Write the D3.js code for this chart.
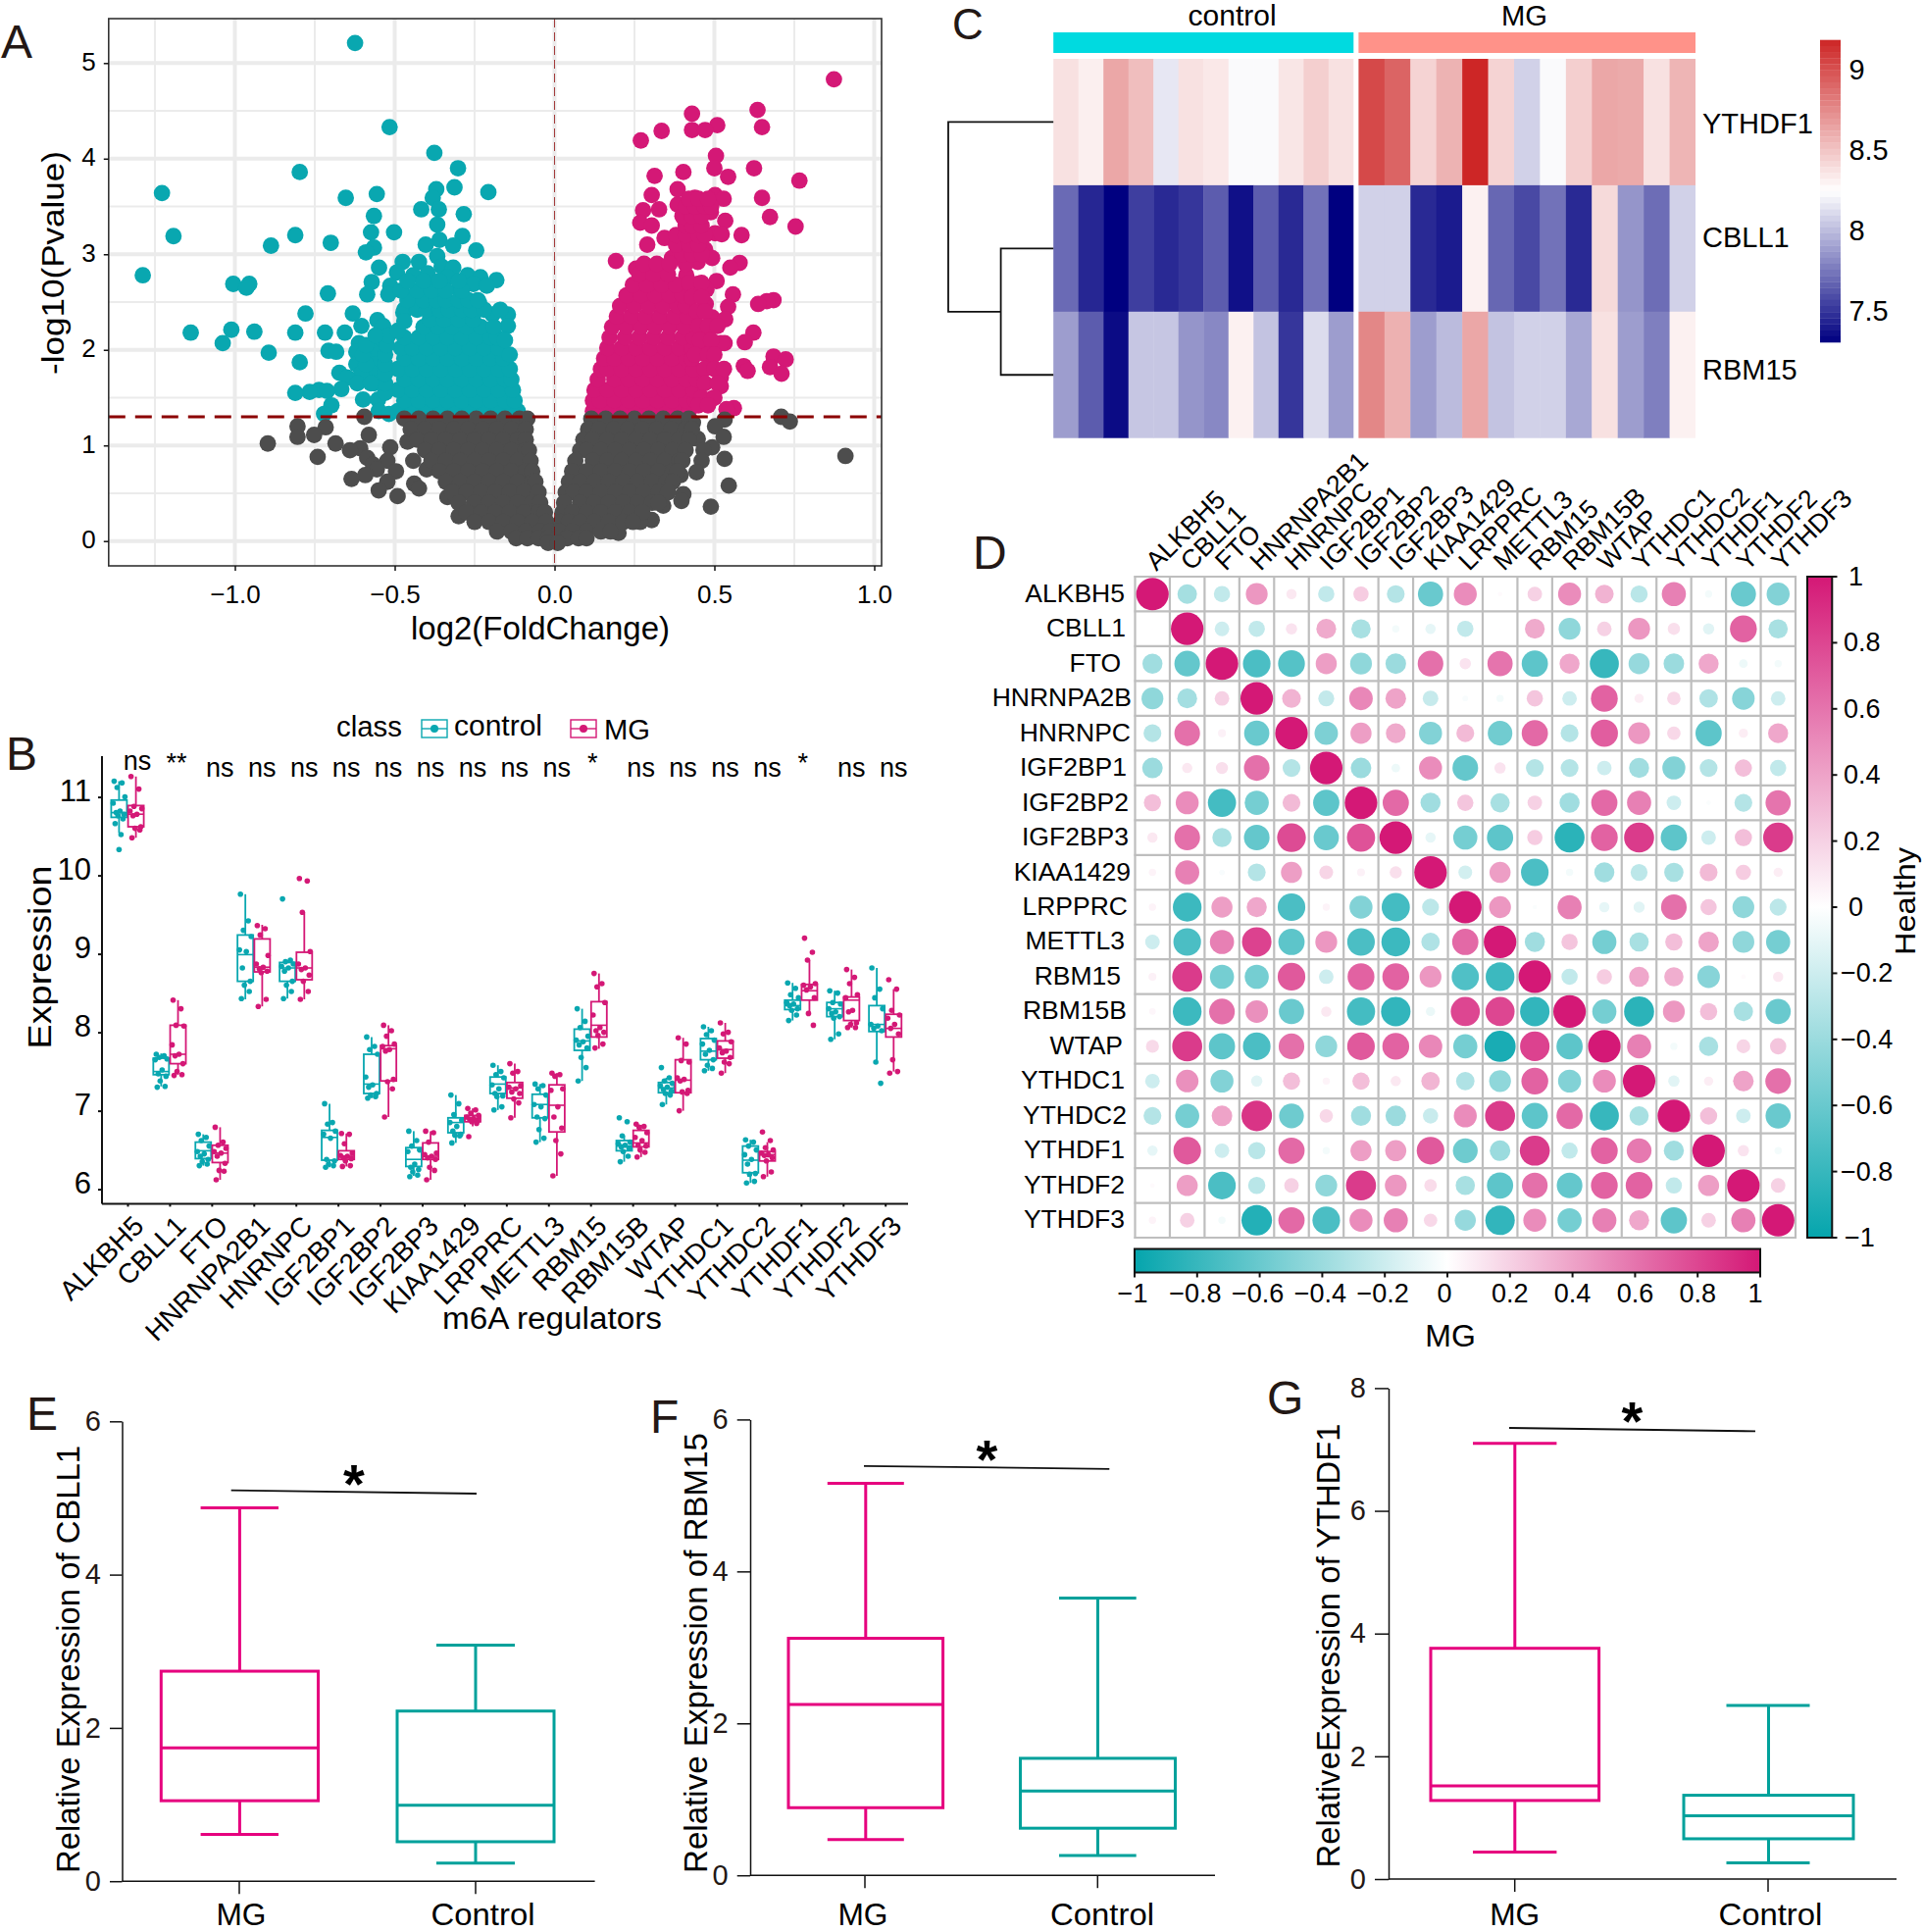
<!DOCTYPE html>
<html><head><meta charset="utf-8">
<script src="https://cdn.jsdelivr.net/npm/d3@7"></script>
<style>html,body{margin:0;padding:0;background:#fff}svg{display:block}text{font-family:"Liberation Sans",Arial,sans-serif}</style>
</head><body><svg id="fig" width="1961" height="1970"></svg>
<script>
// ---------- Panel A data: rows of [pvalue level, [log2FC...]] ----------
const volcanoTeal = [[5.21,[-.624]],[4.33,[-.516]],[4.06,[-.376]],[3.90,[-.302]],[3.86,[-.797]],[3.70,[-.313]],[3.68,[-.37]],[3.65,[-.207]],[3.64,[-1.228]],[3.63,[-.556]],[3.59,[-.653,-.381]],[3.47,[-.417,-.362]],[3.42,[-.284]],[3.40,[-.565]],[3.31,[-.367]],[3.23,[-.574,-.502]],[3.20,[-.811]],[3.19,[-1.192,-.288]],[3.15,[-.36]],[3.12,[-.70]],[3.10,[-.403]],[3.09,[-.887,-.317]],[3.07,[-.565]],[3.04,[-.245]],[3.02,[-.59]],[2.98,[-.367]],[2.92,[-.424,-.475]],[2.87,[-.353]],[2.86,[-.549,-.317]],[2.81,[-.493]],[2.80,[-.397]],[2.78,[-1.288,-.272,-.442]],[2.76,[-.232,-.335]],[2.73,[-.182]],[2.71,[-.572]],[2.69,[-1.005,-.955,-.254]],[2.67,[-.212,-.514,-.406]],[2.65,[-.964]],[2.63,[-.299]],[2.59,[-.709]],[2.58,[-.586,-.52,-.388]],[2.56,[-.442]],[2.49,[-.236,-.40]],[2.47,[-.353,-.31]],[2.38,[-.779,-.631]],[2.39,[-.473]],[2.37,[-.194,-.146]],[2.31,[-.554]],[2.25,[-.536,-.604,-.146]],[2.21,[-1.011]],[2.19,[-.939]],[2.18,[-1.138,-.811,-.718,-.656]],[2.07,[-1.038,-.612,-.566]],[1.99,[-.707]],[1.98,[-.683,-.62,-.57]],[1.97,[-.894]],[1.87,[-.797]],[1.85,[-.62,-.565]],[1.76,[-.673]],[1.75,[-.565,-.605]],[1.71,[-.649]],[1.65,[-.617,-.565]],[1.59,[-.667]],[1.58,[-.737]],[1.57,[-.712]],[1.56,[-.766]],[1.55,[-.811]],[1.48,[-.599,-.552]],[1.42,[-.698]],[1.36,[-.55]],[1.33,[-.721,-.518]],
[1.36,[-.49,-.445,-.40,-.355,-.31,-.265,-.22,-.175,-.13,-.115]],[1.47,[-.47,-.425,-.38,-.335,-.29,-.245,-.20,-.155,-.125]],[1.58,[-.49,-.445,-.40,-.355,-.31,-.265,-.22,-.175,-.13]],[1.69,[-.47,-.425,-.38,-.335,-.29,-.245,-.20,-.155,-.135]],[1.80,[-.49,-.445,-.40,-.355,-.31,-.265,-.22,-.175,-.14]],[1.91,[-.47,-.425,-.38,-.335,-.29,-.245,-.20,-.16]],[2.02,[-.48,-.445,-.40,-.355,-.31,-.265,-.22,-.175]],[2.13,[-.47,-.425,-.38,-.335,-.29,-.245,-.20,-.18]],[2.24,[-.41,-.365,-.32,-.275,-.23,-.19]],[2.32,[-.39,-.345,-.30,-.255]],
[2.42,[-.47,-.43,-.40,-.36,-.33,-.29,-.26,-.22,-.17]],[2.52,[-.46,-.41,-.37,-.34,-.30,-.27,-.24]],[2.62,[-.48,-.43,-.385,-.34,-.29]],[2.72,[-.46,-.41,-.36,-.30]],
[1.55,[-.53]],[1.65,[-.53,-.575]],[1.75,[-.53]],[1.85,[-.53,-.59]],[1.95,[-.53,-.60,-.14]],[2.05,[-.525,-.59]],[2.15,[-.52,-.56]],[2.10,[-.155]],[2.20,[-.49]],[2.30,[-.47]]];
const volcanoPink = [[4.83,[.874]],[4.51,[.635]],[4.47,[.43]],[4.35,[.509]],[4.33,[.649]],[4.30,[.43,.471]],[4.29,[.335]],[4.19,[.27]],[4.03,[.505]],[3.90,[.5,.624]],[3.86,[.403]],[3.82,[.313]],[3.81,[.543]],[3.77,[.766]],[3.68,[.385]],[3.62,[.304,.502]],[3.59,[.649,.439]],[3.58,[.529]],[3.56,[.471]],[3.52,[.385]],[3.47,[.327,.448]],[3.46,[.277]],[3.44,[.489]],[3.39,[.674,.403]],[3.35,[.534]],[3.34,[.448]],[3.33,[.268]],[3.30,[.304]],[3.29,[.754]],[3.23,[.43]],[3.22,[.502]],[3.21,[.523]],[3.20,[.585]],[3.17,[.344]],[3.16,[.403]],[3.12,[.448]],[3.10,[.29]],[3.05,[.403,.471]],[2.96,[.493,.367]],[2.93,[.192]],[2.92,[.448]],[2.91,[.579]],[2.87,[.317]],[2.86,[.55]],[2.85,[.255]],[2.78,[.412]],[2.72,[.507]],[2.69,[.448]],[2.63,[.475]],[2.58,[.558]],[2.52,[.685]],[2.51,[.664]],[2.48,[.637,.473]],[2.45,[.543]],[2.37,[.439]],[2.34,[.493]],[2.32,[.534]],[2.18,[.622,.46]],[2.11,[.475]],[2.08,[.595]],[2.07,[.532,.52]],[1.96,[.466]],[1.93,[.685]],[1.90,[.723]],[1.83,[.592]],[1.82,[.674,.493]],[1.78,[.604]],[1.75,[.71]],[1.71,[.52]],[1.62,[.52]],[1.49,[.493]],[1.39,[.561]],[1.38,[.538]],
[1.36,[.12,.165,.21,.255,.30,.345,.39,.42]],[1.47,[.12,.142,.187,.232,.277,.322,.367,.412,.44]],[1.58,[.125,.165,.21,.255,.30,.345,.39,.435]],[1.69,[.135,.187,.232,.277,.322,.367,.412,.445]],[1.80,[.145,.165,.21,.255,.30,.345,.39,.435]],[1.91,[.155,.187,.232,.277,.322,.367,.412,.43]],[2.02,[.165,.21,.255,.30,.345,.39,.43]],[2.13,[.172,.22,.265,.31,.355,.40,.435]],[2.24,[.18,.225,.27,.315,.36,.405]],[2.35,[.195,.24,.285,.33,.375,.415]],[2.46,[.205,.25,.295,.34,.385,.41]],[2.57,[.225,.27,.315,.36,.40]],[2.68,[.245,.29,.335,.38]],[2.79,[.265,.31,.355]],
[2.90,[.28,.32,.36,.41]],[3.0,[.40,.43,.46]],[3.1,[.38,.42,.45]],[3.2,[.38,.41,.45,.47]],[3.3,[.41,.43,.46]],[3.4,[.40,.43,.46]],[3.5,[.41,.44,.47,.49]],[3.58,[.42,.45,.48]],[2.7,[.42,.46]],[2.55,[.43,.46]],[2.4,[.445,.47]],[2.25,[.45,.48,.51]],[2.1,[.455,.49]],[1.95,[.44,.48,.50]],[1.8,[.47,.50,.53]],[1.65,[.47,.51]],[1.5,[.46,.50]],[1.42,[.45,.48]]];
const volcanoGray = [[1.30,[-.595,.709]],[1.27,[.532]],[1.25,[.736]],[1.24,[.433]],[1.20,[-.804,.502]],[1.19,[-.716]],[1.11,[-.752,-.581]],[1.09,[-.804,.529]],[1.07,[.448,-.40]],[1.04,[-.46]],[1.02,[-.897,-.685]],[.98,[-.514,.493]],[.97,[-.608]],[.95,[-.64,.466]],[.89,[.91]],[.88,[-.741]],[.87,[-.586]],[.86,[.532]],[.84,[-.523,-.442,.46]],[.80,[-.568]],[.75,[-.556,-.40]],[.73,[-.496,.358]],[.72,[.444]],[.69,[-.592,.394]],[.65,[-.635]],[.62,[-.523]],[.60,[-.439]],[.58,[.545]],[.55,[-.424]],[.53,[-.55]],[.49,[.403]],[.47,[-.491]],[.46,[-.335]],[.42,[.397]],[.37,[.34]],[.36,[.489]],[.26,[-.30]],[.22,[.304]],[.20,[.268]],[.085,[.20]],
[1.28,[-.47,-.425,-.38,-.335,-.29,-.245,-.20,-.155,-.11,-.085,.115,.16,.205,.25,.295,.34,.385,.42]],
[1.17,[-.45,-.405,-.36,-.315,-.27,-.225,-.18,-.135,-.09,.105,.14,.185,.23,.275,.32,.365,.41,.43]],
[1.06,[-.43,-.385,-.34,-.295,-.25,-.205,-.16,-.115,-.09,.09,.12,.165,.21,.255,.30,.345,.39,.42]],
[.95,[-.405,-.36,-.315,-.27,-.225,-.18,-.135,-.09,-.08,.08,.10,.145,.19,.235,.28,.325,.37,.41]],
[.84,[-.385,-.34,-.295,-.25,-.205,-.16,-.115,-.075,.065,.12,.165,.21,.255,.30,.345,.39,.40]],
[.73,[-.36,-.315,-.27,-.225,-.18,-.135,-.09,-.07,.055,.10,.145,.19,.235,.28,.325,.37,.385]],
[.62,[-.34,-.295,-.25,-.205,-.16,-.115,-.07,-.06,.045,.08,.125,.17,.215,.26,.305,.35,.37]],
[.51,[-.32,-.275,-.23,-.185,-.14,-.095,-.05,.035,.06,.10,.145,.19,.235,.28,.325,.355]],
[.40,[-.30,-.25,-.205,-.16,-.115,-.07,-.045,.03,.08,.125,.17,.215,.26,.305,.325]],
[.30,[-.275,-.23,-.185,-.14,-.095,-.05,-.03,.025,.055,.10,.145,.19,.235,.275]],
[.20,[-.25,-.205,-.16,-.115,-.07,-.025,.02,.045,.08,.125,.17,.215,.245]],
[.10,[-.18,-.135,-.09,-.045,-.015,.015,.055,.10,.145,.175]],
[.03,[-.12,-.085,-.05,-.02,.01,.04,.075,.10]],[-.02,[-.02,.01]]];
const volcanoXTicks = [-1,-.5,0,.5,1];
const volcanoXMinor = [-1.25,-.75,-.25,.25,.75];
const volcanoYTicks = [0,1,2,3,4,5];
const volcanoYMinor = [.5,1.5,2.5,3.5,4.5];

// ---------- Panel B data ----------
const regulators = ["ALKBH5","CBLL1","FTO","HNRNPA2B1","HNRNPC","IGF2BP1","IGF2BP2","IGF2BP3","KIAA1429","LRPPRC","METTL3","RBM15","RBM15B","WTAP","YTHDC1","YTHDC2","YTHDF1","YTHDF2","YTHDF3"];
const significance = ["ns","**","ns","ns","ns","ns","ns","ns","ns","ns","ns","*","ns","ns","ns","ns","*","ns","ns"];
// each: low whisker, q1, median, q3, high whisker
const boxControl = [[10.54,10.74,10.8,10.96,11.2],[7.31,7.46,7.5,7.67,7.73],[6.3,6.39,6.49,6.6,6.7],[8.42,8.65,8.99,9.24,9.76],[8.43,8.65,8.82,8.89,8.92],[6.28,6.37,6.66,6.75,7.09],[7.16,7.22,7.34,7.72,7.94],[6.17,6.29,6.38,6.53,6.74],[6.59,6.72,6.85,6.91,7.2],[7.01,7.22,7.34,7.43,7.58],[6.6,6.91,7.08,7.21,7.34],[7.38,7.77,7.89,8.04,8.3],[6.35,6.49,6.55,6.62,6.68],[7.08,7.23,7.29,7.36,7.42],[7.51,7.65,7.76,7.92,8.07],[6.08,6.21,6.37,6.55,6.63],[8.15,8.29,8.34,8.41,8.63],[7.91,8.2,8.3,8.38,8.53],[7.62,8.01,8.1,8.34,8.82]];
const boxMG = [[10.48,10.62,10.78,10.89,11.26],[7.46,7.6,7.72,8.09,8.41],[6.12,6.34,6.46,6.56,6.79],[8.33,8.77,8.83,9.19,9.37],[8.42,8.67,8.82,9.02,9.53],[6.29,6.38,6.42,6.49,6.71],[6.92,7.38,7.79,7.83,8.09],[6.12,6.38,6.42,6.59,6.74],[6.8,6.86,6.9,6.94,7.03],[6.91,7.16,7.29,7.36,7.6],[6.17,6.73,7.07,7.33,7.48],[7.79,7.94,8.09,8.39,8.75],[6.41,6.54,6.59,6.75,6.82],[7.0,7.23,7.39,7.65,7.93],[7.48,7.67,7.78,7.89,8.12],[6.16,6.36,6.44,6.48,6.6],[8.24,8.41,8.53,8.61,8.92],[8.06,8.15,8.41,8.45,8.8],[7.5,7.94,8.05,8.23,8.55]];
const dotsControl = [[11.2,11.18,11.12,11.0,10.92,10.82,10.8,10.78,10.76,10.72,10.66,10.52,10.33],[7.72,7.7,7.68,7.66,7.65,7.52,7.47,7.44,7.38,7.31,7.3],[6.7,6.66,6.62,6.55,6.48,6.45,6.42,6.38,6.35,6.32,6.3],[9.76,9.42,9.3,9.22,9.05,9.03,8.82,8.65,8.6,8.52,8.43],[9.7,8.92,8.9,8.87,8.84,8.82,8.78,8.65,8.6,8.52,8.43],[7.09,6.85,6.83,6.74,6.7,6.65,6.38,6.36,6.32,6.3,6.28],[7.94,7.82,7.78,7.72,7.43,7.33,7.3,7.22,7.2,7.18,7.16],[6.74,6.62,6.55,6.5,6.48,6.32,6.28,6.25,6.22,6.18,6.16],[7.2,7.09,6.95,6.88,6.85,6.8,6.74,6.7,6.69,6.68,6.59],[7.58,7.5,7.46,7.42,7.33,7.28,7.22,7.19,7.18,7.05,7.01],[7.34,7.32,7.28,7.2,7.08,7.05,6.92,6.9,6.76,6.65,6.6],[8.3,8.14,8.06,7.95,7.9,7.88,7.84,7.8,7.68,7.55,7.38],[6.91,6.86,6.68,6.6,6.58,6.56,6.54,6.52,6.48,6.42,6.35],[7.55,7.42,7.38,7.35,7.32,7.3,7.27,7.25,7.22,7.2,7.08],[8.07,8.02,7.97,7.9,7.85,7.77,7.72,7.65,7.58,7.54,7.51],[6.63,6.6,6.55,6.5,6.44,6.38,6.32,6.2,6.19,6.1,6.08],[8.63,8.56,8.48,8.44,8.38,8.36,8.34,8.3,8.28,8.22,8.15],[8.53,8.5,8.38,8.36,8.3,8.26,8.24,8.2,8.18,7.98,7.91],[8.82,8.55,8.44,8.3,8.1,8.08,8.05,8.02,7.62,7.35]];
const dotsMG = [[11.26,11.1,10.88,10.85,10.82,10.78,10.76,10.62,10.6,10.58,10.48],[8.41,8.3,8.09,8.08,7.84,7.72,7.7,7.6,7.5,7.46,7.45],[6.79,6.6,6.56,6.52,6.48,6.46,6.42,6.33,6.24,6.23,6.12],[9.36,9.32,9.24,8.98,8.87,8.83,8.81,8.78,8.76,8.42,8.33],[9.96,9.93,9.53,9.03,8.87,8.82,8.8,8.73,8.65,8.52,8.42],[6.71,6.7,6.58,6.46,6.43,6.42,6.4,6.39,6.36,6.3,6.29],[8.09,8.02,7.95,7.85,7.82,7.78,7.76,7.4,7.37,7.28,6.92],[6.74,6.72,6.6,6.46,6.44,6.42,6.4,6.38,6.28,6.24,6.12],[7.03,7.01,6.97,6.94,6.92,6.9,6.89,6.87,6.86,6.84,6.67],[7.6,7.5,7.48,7.32,7.3,7.28,7.24,7.22,7.15,7.1,6.91],[7.48,7.46,7.44,7.28,7.26,7.05,6.92,6.78,6.62,6.45,6.17],[8.75,8.62,8.58,8.38,8.22,8.06,8.02,8.0,7.96,7.85,7.8],[6.83,6.8,6.79,6.72,6.66,6.62,6.56,6.55,6.5,6.47,6.41],[7.93,7.85,7.64,7.62,7.42,7.4,7.38,7.26,7.24,7.22,7.0],[8.12,8.0,7.98,7.88,7.8,7.76,7.74,7.68,7.62,7.6,7.48],[6.73,6.62,6.53,6.5,6.46,6.44,6.43,6.4,6.36,6.22,6.16],[9.2,9.02,8.92,8.62,8.6,8.58,8.54,8.44,8.24,8.09],[8.8,8.7,8.62,8.48,8.44,8.28,8.26,8.12,8.1,8.06,8.06],[8.67,8.55,8.28,8.22,8.18,8.1,8.05,7.98,7.65,7.5,7.48]];
const dotJitter = [-5,3,-2,6,-6,1,-3,5,-1,4,-4,2,0];
const exprTicks = [6,7,8,9,10,11];

// ---------- Panel C data ----------
const heatGenes = ["YTHDF1","CBLL1","RBM15"];
const heatControl = [[8.37,8.31,8.62,8.52,8.15,8.37,8.34,8.22,8.22,8.35,8.45,8.37],[7.69,7.44,7.3,7.53,7.45,7.5,7.64,7.36,7.64,7.45,7.72,7.3],[7.88,7.64,7.34,8.03,8.03,7.85,7.8,8.3,8.02,7.5,8.11,7.88]];
const heatMG = [[9.03,8.91,8.43,8.57,9.18,8.43,8.07,8.22,8.45,8.62,8.61,8.37,8.56],[8.07,8.07,7.45,7.4,8.3,7.68,7.57,7.72,7.45,8.4,7.85,7.7,8.07],[8.76,8.58,7.88,7.99,8.62,8.02,8.07,8.07,7.92,8.37,7.88,7.77,8.3]];
const heatTicks = [7.5,8,8.5,9];

// ---------- Panel D data: upper triangle MG, lower triangle Healthy ----------
const corrGenes = ["ALKBH5","CBLL1","FTO","HNRNPA2B","HNRNPC","IGF2BP1","IGF2BP2","IGF2BP3","KIAA1429","LRPPRC","METTL3","RBM15","RBM15B","WTAP","YTHDC1","YTHDC2","YTHDF1","YTHDF2","YTHDF3"];
const corrColGenes = ["ALKBH5","CBLL1","FTO","HNRNPA2B1","HNRNPC","IGF2BP1","IGF2BP2","IGF2BP3","KIAA1429","LRPPRC","METTL3","RBM15","RBM15B","WTAP","YTHDC1","YTHDC2","YTHDF1","YTHDF2","YTHDF3"];
const corrMatrix = [
[1,-.36,-.25,.45,.1,-.25,.22,-.3,-.6,.5,.02,.2,.5,.33,-.28,.55,-.05,-.6,-.5],
[.003,1,-.2,-.25,.12,.37,-.35,-.05,-.1,-.25,.003,.37,-.45,.2,.45,.14,-.12,.68,-.35],
[-.38,-.62,1,-.72,-.68,.42,-.45,-.4,.62,.12,.6,-.65,.38,-.8,-.42,-.4,.38,-.07,-.05],
[-.45,-.37,.2,1,.33,-.24,.52,.4,-.23,-.03,-.05,.25,-.2,.68,.08,.17,-.32,-.48,-.2],
[-.3,.62,.06,-.6,1,-.52,.42,.37,-.5,.3,-.57,.65,-.3,.7,.45,.17,-.65,.08,.38],
[-.4,.1,.14,.62,-.3,1,-.4,-.07,.5,-.62,.12,-.3,-.3,-.2,-.38,-.5,-.3,.28,-.25],
[.28,.5,-.75,-.55,.3,-.65,1,.65,-.38,.25,-.35,.2,-.38,.65,.55,-.2,-.02,-.3,.6],
[.1,.62,-.35,-.62,.78,-.6,.75,1,-.1,-.55,-.65,.22,-.85,.68,.85,-.65,-.2,.28,.85],
[.05,.55,-.03,-.3,.42,.18,.06,.14,1,-.18,.42,-.72,-.05,-.38,-.27,-.35,.3,.22,.08],
[.05,-.78,.42,.38,-.72,.05,-.5,-.75,-.27,1,.45,-.02,.55,-.1,-.12,.62,.25,-.45,-.27],
[-.2,-.72,.55,.82,-.65,.45,-.72,-.78,-.32,.65,1,-.38,.25,-.55,-.35,.28,.4,-.45,-.55],
[.06,.85,-.55,-.55,.72,-.2,.68,.68,.45,-.7,-.78,1,-.25,.22,.38,.35,-.48,.02,.1],
[.04,-.78,.62,.48,-.6,.1,-.75,-.82,-.08,.8,.8,-.82,1,-.55,-.85,.45,.28,-.35,-.6],
[.16,.85,-.65,-.72,.62,-.45,.72,.68,.52,-.55,-.92,.82,-.65,1,.55,-.05,-.35,.18,.25],
[-.2,.48,-.5,-.12,.28,.05,.28,.1,.32,-.32,-.45,.68,-.5,.5,1,-.12,.08,.4,.62],
[-.3,-.55,.4,.88,-.58,.17,-.38,-.4,-.22,.5,.85,-.65,.65,-.8,-.35,1,.28,-.2,-.6],
[-.1,.72,-.2,-.28,.65,-.05,.42,.42,.72,-.58,-.4,.85,-.25,.68,.58,-.38,1,.12,-.05],
[.02,.42,-.72,-.28,.2,-.45,.85,.45,.15,-.35,-.65,.62,-.62,.68,.68,-.25,.42,1,.2],
[.05,.2,-.05,-.88,.65,-.72,.5,.55,.17,-.42,-.82,.5,-.55,.55,.38,-.65,.2,.55,1]];
const corrRowRight = [1147,1148,1143,1154,1153,1149,1151,1151,1153,1150,1147,1143,1149,1145,1147,1149,1147,1147,1147];
const corrLegendTicks = [-1,-.8,-.6,-.4,-.2,0,.2,.4,.6,.8,1];

// ---------- Panels E, F, G data: low whisker, q1, median, q3, high whisker ----------
const cbll1MG = [.61,1.05,1.74,2.74,4.87], cbll1Control = [.236,.515,.99,2.22,3.08];
const rbm15MG = [.47,.89,2.25,3.12,5.16], rbm15Control = [.26,.62,1.11,1.54,3.65];
const ythdf1MG = [.44,1.28,1.52,3.76,7.1], ythdf1Control = [.265,.656,1.03,1.365,2.83];

// ---------- helpers ----------
const PINK="#D41876", TEAL="#09A7B0", GRAY="#4D4D4D";
const svg=d3.select("#fig");
svg.append("rect").attr("width",1961).attr("height",1970).attr("fill","#fff");
function T(g,x,y,s,o={}){
  const t=g.append("text").attr("transform",`translate(${x},${y})`+(o.rot?` rotate(${o.rot})`:""))
    .attr("font-size",o.size||26).attr("text-anchor",o.anchor||"start").attr("fill",o.fill||"#000").text(s);
  if(o.weight)t.attr("font-weight",o.weight);
  if(o.len)t.attr("textLength",o.len).attr("lengthAdjust","spacingAndGlyphs");
  return t;
}
function styleAxis(a,size,fill,sw){
  a.selectAll("text").attr("font-size",size).attr("fill",fill||"#000").attr("font-family",'"Liberation Sans"');
  a.selectAll("line,path").attr("stroke","#111").attr("stroke-width",sw||1.5);
}
function rowsToPoints(rows){return rows.flatMap(r=>r[1].map(x=>({x,y:r[0]})));}

// Panel letters
[["A",1,59,48],["B",6,785,48],["C",971,40,44],["D",992,580,48],["E",27,1458,48],["F",663,1461,48],["G",1292,1442,48]]
  .forEach(d=>T(svg,d[1],d[2],d[0],{size:d[3],fill:"#231815"}));

// ---------- Panel A ----------
(function(){
  const L=110.8,R=899,Top=19,Bot=577;
  const x=d3.scaleLinear().domain([-1,1]).range([239.5,891.5]);
  const y=d3.scaleLinear().domain([0,5]).range([551.7,64.3]);
  const g=svg.append("g");
  g.append("rect").attr("x",L).attr("y",Top).attr("width",R-L).attr("height",Bot-Top).attr("fill","#fff");
  volcanoXMinor.forEach(v=>g.append("line").attr("x1",x(v)).attr("x2",x(v)).attr("y1",Top).attr("y2",Bot).attr("stroke","#EBEBEB").attr("stroke-width",2));
  volcanoYMinor.forEach(v=>g.append("line").attr("y1",y(v)).attr("y2",y(v)).attr("x1",L).attr("x2",R).attr("stroke","#EBEBEB").attr("stroke-width",2));
  volcanoXTicks.forEach(v=>g.append("line").attr("x1",x(v)).attr("x2",x(v)).attr("y1",Top).attr("y2",Bot).attr("stroke","#EBEBEB").attr("stroke-width",4));
  volcanoYTicks.forEach(v=>g.append("line").attr("y1",y(v)).attr("y2",y(v)).attr("x1",L).attr("x2",R).attr("stroke","#EBEBEB").attr("stroke-width",4));
  const dot=(rows,c)=>g.append("g").attr("fill",c).selectAll("circle").data(rowsToPoints(rows)).join("circle")
     .attr("cx",d=>x(d.x)).attr("cy",d=>y(d.y)).attr("r",8.4);
  dot(volcanoTeal,TEAL);dot(volcanoPink,PINK);dot(volcanoGray,GRAY);
  g.append("line").attr("x1",L).attr("x2",R).attr("y1",y(1.3)).attr("y2",y(1.3)).attr("stroke","#8B0000").attr("stroke-width",3.2).attr("stroke-dasharray","17,10");
  g.append("line").attr("x1",x(0)).attr("x2",x(0)).attr("y1",Top).attr("y2",Bot).attr("stroke","#8B0000").attr("stroke-opacity",.75).attr("stroke-width",1).attr("stroke-dasharray","9,5");
  g.append("rect").attr("x",L).attr("y",Top).attr("width",R-L).attr("height",Bot-Top).attr("fill","none").attr("stroke","#333").attr("stroke-width",1.6);
  const ax=g.append("g").attr("transform",`translate(0,${Bot})`).call(d3.axisBottom(x).tickValues(volcanoXTicks).tickFormat(d3.format(".1f")).tickSize(5).tickPadding(15).tickSizeOuter(0));
  styleAxis(ax,26);ax.select(".domain").remove();
  const ay=g.append("g").attr("transform",`translate(${L},0)`).call(d3.axisLeft(y).tickValues(volcanoYTicks).tickFormat(d3.format("d")).tickSize(5).tickPadding(8).tickSizeOuter(0));
  styleAxis(ay,26);ay.select(".domain").remove();
  ay.selectAll("text").attr("dy","0.27em");
  T(g,551,652,"log2(FoldChange)",{size:33,anchor:"middle",len:264});
  T(g,65,268,"-log10(Pvalue)",{size:32,anchor:"middle",rot:-90,len:228});
})();

// ---------- Panel B ----------
(function(){
  const g=svg.append("g");
  const x=d3.scalePoint().domain(regulators).range([130,902.7]);
  const y=d3.scaleLinear().domain([6,11]).range([1212.6,812.6]);
  const base=1227.4, off=8.6, bw=16;
  [[boxControl,dotsControl,TEAL,-off],[boxMG,dotsMG,PINK,off]].forEach(([bx,ds,c,o])=>{
    regulators.forEach((r,i)=>{
      const cx=x(r)+o,b=bx[i];
      g.append("line").attr("x1",cx).attr("x2",cx).attr("y1",y(b[0])).attr("y2",y(b[4])).attr("stroke",c).attr("stroke-width",1.8);
      g.append("rect").attr("x",cx-bw/2).attr("width",bw).attr("y",y(b[3])).attr("height",y(b[1])-y(b[3])).attr("fill","#fff").attr("stroke",c).attr("stroke-width",1.8);
      g.append("line").attr("x1",cx-bw/2).attr("x2",cx+bw/2).attr("y1",y(b[2])).attr("y2",y(b[2])).attr("stroke",c).attr("stroke-width",1.6);
      g.append("g").selectAll("circle").data(ds[i]).join("circle").attr("cx",(d,j)=>cx+dotJitter[j%dotJitter.length]).attr("cy",d=>y(d)).attr("r",2.8).attr("fill",c);
    });
  });
  const ay=g.append("g").attr("transform","translate(104,0)").call(d3.axisLeft(y).tickValues(exprTicks).tickFormat(d3.format("d")).tickSize(4).tickPadding(7).tickSizeOuter(0));
  styleAxis(ay,31,"#000",2);
  ay.selectAll("text").attr("dy","0.12em");
  ay.select(".domain").attr("d",`M0,771V${base}`);
  const ax=g.append("g").attr("transform",`translate(0,${base})`).call(d3.axisBottom(x).tickSize(3).tickSizeOuter(0).tickFormat(""));
  styleAxis(ax,26,"#000",2);
  ax.select(".domain").attr("d","M104,0H926");
  regulators.forEach(r=>T(g,x(r)+4,base+10,r,{size:28,anchor:"end",rot:-45}).attr("dy","0.72em"));
  T(g,52,976,"Expression",{size:34,anchor:"middle",rot:-90,len:187});
  T(g,563,1355,"m6A regulators",{size:31,anchor:"middle",len:224});
  significance.forEach((s,i)=>{
    const dx=s==="ns"?(i===0?10:8.5):s==="**"?7:2;
    T(g,x(regulators[i])+dx,s==="ns"?(i===0?785:791.5):787,s,{size:27,anchor:"middle"});
  });
  // legend
  T(g,343,751,"class",{size:29,len:67});
  [[430,TEAL,"control",463,750,90],[582,PINK,"MG",616,754,47]].forEach(([kx,c,lab,tx,ty,len])=>{
    g.append("rect").attr("x",kx).attr("y",734).attr("width",26).attr("height",18).attr("fill","#fff").attr("stroke",c).attr("stroke-width",1.4);
    g.append("line").attr("x1",kx).attr("x2",kx+26).attr("y1",743).attr("y2",743).attr("stroke",c).attr("stroke-width",1.4);
    g.append("circle").attr("cx",kx+13).attr("cy",743).attr("r",4).attr("fill",c);
    T(g,tx,ty,lab,{size:29,len});
  });
})();

// ---------- Panel C ----------
(function(){
  const g=svg.append("g");
  const col=d3.scaleLinear().domain([7.3,8.24,9.18]).range(["#000080","#FFFFFF","#CD2626"]);
  const rows=d3.scaleBand().domain(heatGenes).range([60,446.7]);
  const xc=d3.scaleBand().domain(d3.range(12)).range([1074.2,1380.3]);
  const xm=d3.scaleBand().domain(d3.range(13)).range([1385.4,1729]);
  [[heatControl,xc],[heatMG,xm]].forEach(([m,xs])=>m.forEach((r,i)=>r.forEach((v,j)=>{
    g.append("rect").attr("x",xs(j)).attr("y",rows(heatGenes[i])).attr("width",xs.bandwidth()+(j<r.length-1?.4:0)).attr("height",rows.bandwidth()+(i<2?.3:0)).attr("fill",col(v));
  })));
  g.append("rect").attr("x",1074.2).attr("y",33).attr("width",306.1).attr("height",21).attr("fill","#00DAE0");
  g.append("rect").attr("x",1385.4).attr("y",33).attr("width",343.6).attr("height",21).attr("fill","#FF9289");
  T(g,1256.6,26,"control",{size:29,anchor:"middle",len:90});
  T(g,1554.4,26,"MG",{size:29,anchor:"middle",len:47});
  const lab={YTHDF1:136,CBLL1:251.7,RBM15:386.7};
  heatGenes.forEach(n=>T(g,1736,lab[n],n,{size:29}));
  // dendrogram
  const ys=n=>rows(n)+rows.bandwidth()/2;
  const merge=(ys("CBLL1")+ys("RBM15"))/2, X0=1074.2,X1=1020.6,X2=967;
  const p=d3.path();
  p.moveTo(X0,ys("CBLL1"));p.lineTo(X1,ys("CBLL1"));p.lineTo(X1,ys("RBM15"));p.lineTo(X0,ys("RBM15"));
  p.moveTo(X1,merge);p.lineTo(X2,merge);p.lineTo(X2,ys("YTHDF1"));p.lineTo(X0,ys("YTHDF1"));
  g.append("path").attr("d",p.toString()).attr("fill","none").attr("stroke","#111").attr("stroke-width",1.8);
  // colour bar
  const cb=d3.scaleLinear().domain([9.18,7.3]).range([40.7,349]);
  const lv=d3.range(50);
  const bh=(349-40.7)/50;
  lv.forEach(i=>g.append("rect").attr("x",1856).attr("y",40.7+i*bh).attr("width",21).attr("height",bh+.3).attr("fill",col(9.18-(i+.5)*(9.18-7.3)/50)));
  heatTicks.forEach(t=>T(g,1885.4,cb(t)+10.5,String(t),{size:29}));
})();

// ---------- Panel D ----------
(function(){
  const g=svg.append("g");
  const x=d3.scaleBand().domain(corrColGenes).range([1157.5,1831]);
  const y=d3.scaleBand().domain(corrGenes).range([588,1262]);
  const col=d3.scaleLinear().domain([-1,0,1]).range(["#05A5AD","#FFFFFF","#D41876"]);
  const rr=d3.scaleSqrt().domain([0,1]).range([0,16.6]);
  d3.range(20).forEach(i=>{
    const px=1157.5+i*x.bandwidth(), py=588+i*y.bandwidth();
    g.append("line").attr("x1",px).attr("x2",px).attr("y1",588-1).attr("y2",1262+1).attr("stroke","#BEBEBE").attr("stroke-width",2.2);
    g.append("line").attr("y1",py).attr("y2",py).attr("x1",1157.5-1).attr("x2",1831+1).attr("stroke","#BEBEBE").attr("stroke-width",2.2);
  });
  corrMatrix.forEach((r,i)=>r.forEach((v,j)=>{
    g.append("circle").attr("cx",x(corrColGenes[j])+x.bandwidth()/2).attr("cy",y(corrGenes[i])+y.bandwidth()/2).attr("r",rr(Math.abs(v))).attr("fill",col(v));
  }));
  corrGenes.forEach((n,i)=>T(g,corrRowRight[i],y(n)+y.bandwidth()/2+8,n,{size:26.5,anchor:"end"}));
  corrColGenes.forEach(n=>T(g,x(n)+x.bandwidth()/2+4,583,n,{size:26.5,rot:-45}));
  // legends
  const defs=svg.append("defs");
  const lg=(id,x1,y1,x2,y2)=>{const q=defs.append("linearGradient").attr("id",id).attr("x1",x1).attr("y1",y1).attr("x2",x2).attr("y2",y2);
    corrLegendTicks.forEach((t,i)=>q.append("stop").attr("offset",i/10).attr("stop-color",col(t)));};
  lg("gh",0,0,1,0);lg("gv",0,1,0,0);
  // right
  const ry=d3.scaleLinear().domain([-1,1]).range([1262,588]);
  g.append("rect").attr("x",1843).attr("y",588).attr("width",25.3).attr("height",674).attr("fill","url(#gv)").attr("stroke","#111").attr("stroke-width",2);
  corrLegendTicks.forEach(t=>{
    g.append("line").attr("x1",1868).attr("x2",1873.5).attr("y1",ry(t)).attr("y2",ry(t)).attr("stroke","#111").attr("stroke-width",2);
    const s=d3.format("~g")(t);
    const sx=t===1||t===0?1885:t===-1?1881:t<0?1877:1880;
    T(g,sx,ry(t)+9,s,{size:27});
  });
  T(g,1953,919,"Healthy",{size:30,anchor:"middle",rot:-90,len:110});
  // bottom
  const bx=d3.scaleLinear().domain([-1,1]).range([1157,1795]);
  g.append("rect").attr("x",1157).attr("y",1273.5).attr("width",638).attr("height",24).attr("fill","url(#gh)").attr("stroke","#111").attr("stroke-width",2);
  corrLegendTicks.forEach(t=>{
    g.append("line").attr("x1",bx(t)).attr("x2",bx(t)).attr("y1",1297.5).attr("y2",1302.5).attr("stroke","#111").attr("stroke-width",2);
    const s=d3.format("~g")(t);
    T(g,bx(t)+(t===1?-5:t===0?-3:t<0?-2:0),1328,s,{size:27,anchor:"middle"});
  });
  T(g,1479,1373,"MG",{size:32,anchor:"middle"});
})();

// ---------- Panels E F G ----------
const PK2="#E6007E",TL2="#00A19B";
function relBox(cfg){
  const g=svg.append("g");
  const y=d3.scaleLinear().domain([0,cfg.max]).range([cfg.y0,cfg.yTop]);
  const x=d3.scaleOrdinal().domain(["MG","Control"]).range(cfg.ticks);
  const ax=g.append("g").attr("transform",`translate(${cfg.ax},0)`).call(d3.axisLeft(y).tickValues(d3.range(0,cfg.max+1,2)).tickFormat(d3.format("d")).tickSize(cfg.ax-cfg.tl).tickPadding(9).tickSizeOuter(0));
  styleAxis(ax,29,"#231815",1.5);
  g.append("line").attr("x1",cfg.ax).attr("x2",cfg.right).attr("y1",cfg.y0).attr("y2",cfg.y0).attr("stroke","#111").attr("stroke-width",1.5);
  ["MG","Control"].forEach(c=>g.append("line").attr("x1",x(c)).attr("x2",x(c)).attr("y1",cfg.y0).attr("y2",cfg.y0+13).attr("stroke","#111").attr("stroke-width",1.5));
  [[cfg.mg,PK2,cfg.boxes[0],cfg.caps[0]],[cfg.ctl,TL2,cfg.boxes[1],cfg.caps[1]]].forEach(([b,c,bx,cap])=>{
    const cx=(bx[0]+bx[1])/2;
    const ln=(a,bb,d,e)=>g.append("line").attr("x1",a).attr("x2",bb).attr("y1",d).attr("y2",e).attr("stroke",c).attr("stroke-width",3);
    ln(cx,cx,y(b[0]),y(b[1]));ln(cx,cx,y(b[3]),y(b[4]));
    ln(cap[0],cap[1],y(b[0]),y(b[0]));ln(cap[0],cap[1],y(b[4]),y(b[4]));
    g.append("rect").attr("x",bx[0]).attr("width",bx[1]-bx[0]).attr("y",y(b[3])).attr("height",y(b[1])-y(b[3])).attr("fill","none").attr("stroke",c).attr("stroke-width",3);
    ln(bx[0],bx[1],y(b[2]),y(b[2]));
  });
  g.append("line").attr("x1",cfg.sig[0]).attr("y1",cfg.sig[1]).attr("x2",cfg.sig[2]).attr("y2",cfg.sig[3]).attr("stroke","#111").attr("stroke-width",1.8);
  T(g,cfg.star[0],cfg.star[1]+26,"*",{size:56,anchor:"middle",weight:"bold"});
  T(g,cfg.lab[0],cfg.lab[1],"MG",{size:32,anchor:"middle",len:51});
  T(g,cfg.lab[2],cfg.lab[3],"Control",{size:32,anchor:"middle",len:106});
  T(g,cfg.title[0],cfg.title[1],cfg.title[3],{size:33,anchor:"middle",rot:-90,len:cfg.title[2]});
}
relBox({max:6,y0:1918.2,yTop:1449.3,ax:124.5,tl:112,right:606.6,ticks:[244,485],mg:cbll1MG,ctl:cbll1Control,
  boxes:[[164.3,324.5],[405,565]],caps:[[204.6,284],[445,525]],sig:[235.7,1519.6,486,1523],star:[361,1506],lab:[246,1963,492.5,1962.6],title:[81,1692,436,"Relative Expression of CBLL1"]});
relBox({max:6,y0:1912.2,yTop:1447.4,ax:765,tl:751.7,right:1239,ticks:[882,1119.3],mg:rbm15MG,ctl:rbm15Control,
  boxes:[[804,961.6],[1040.5,1198.5]],caps:[[843.8,921.8],[1080,1158.7]],sig:[881,1494.8,1131.3,1497.8],star:[1006.4,1481],lab:[880,1962.6,1124,1962.6],title:[721.4,1685.5,449,"Relative Expression of RBM15"]});
relBox({max:8,y0:1916,yTop:1415.4,ax:1416,tl:1402,right:1934,ticks:[1544.7,1803],mg:ythdf1MG,ctl:ythdf1Control,
  boxes:[[1459,1630.6],[1717,1890]],caps:[[1502,1587.4],[1760.5,1845.5]],sig:[1539,1456,1790,1459.4],star:[1664.4,1442],lab:[1544.7,1963,1805.4,1963],title:[1365.6,1678,453,"RelativeExpression of YTHDF1"]});
</script></body></html>
